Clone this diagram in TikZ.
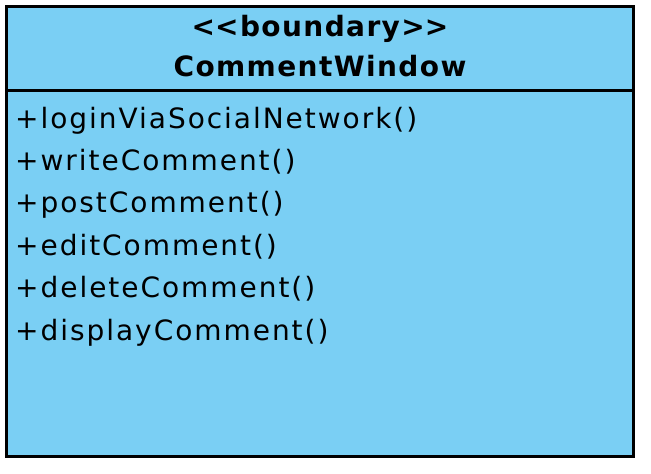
\documentclass[tikz,border=0pt]{standalone}
\usepackage{fontspec}
\setmainfont{DejaVu Sans}
\newfontfamily\headfont{DejaVu Sans}[LetterSpace=5]
\newfontfamily\opfont{DejaVu Sans}[LetterSpace=7]
\definecolor{boundaryblue}{HTML}{7ACFF4}
\usetikzlibrary{positioning}
\tikzset{
	classbox/.style={draw=black, fill=boundaryblue, line width=3pt,
		minimum width=627pt, minimum height=450pt, inner sep=0pt},
	classline/.style={draw=black, line width=3pt},
	headtext/.style={font=\headfont\bfseries\fontsize{28}{33}\selectfont, inner sep=0pt, anchor=base},
	optext/.style={font=\opfont\fontsize{28}{33}\selectfont, inner sep=0pt,
		text height=22pt, text depth=7pt}
}

\begin{document}
\begin{tikzpicture}[x=1pt, y=-1pt, node distance=13pt]
	\useasboundingbox (0,0) rectangle (651,474);
	\node[classbox] (cls) at (320,231.5) {};
	\node[headtext] (stereo) at (320,36) {<\kern0pt<boundary>\kern0pt>};
	\node[headtext] (name) at (320,76.5) {CommentWindow};
	\coordinate (split) at (320,90);
	\draw[classline] (cls.west |- split) -- (cls.east |- split);
	\node[optext, anchor=base west] (login) at (15,128) {+loginViaSocialNetwork()};
	\node[optext, below=of login.south west, anchor=north west] (write) {+writeComment()};
	\node[optext, below=of write.south west, anchor=north west] (post) {+postComment()};
	\node[optext, below=of post.south west, anchor=north west] (edit) {+editComment()};
	\node[optext, below=of edit.south west, anchor=north west] (delete) {+deleteComment()};
	\node[optext, below=of delete.south west, anchor=north west] (display) {+displayComment()};
\end{tikzpicture}
\end{document}
